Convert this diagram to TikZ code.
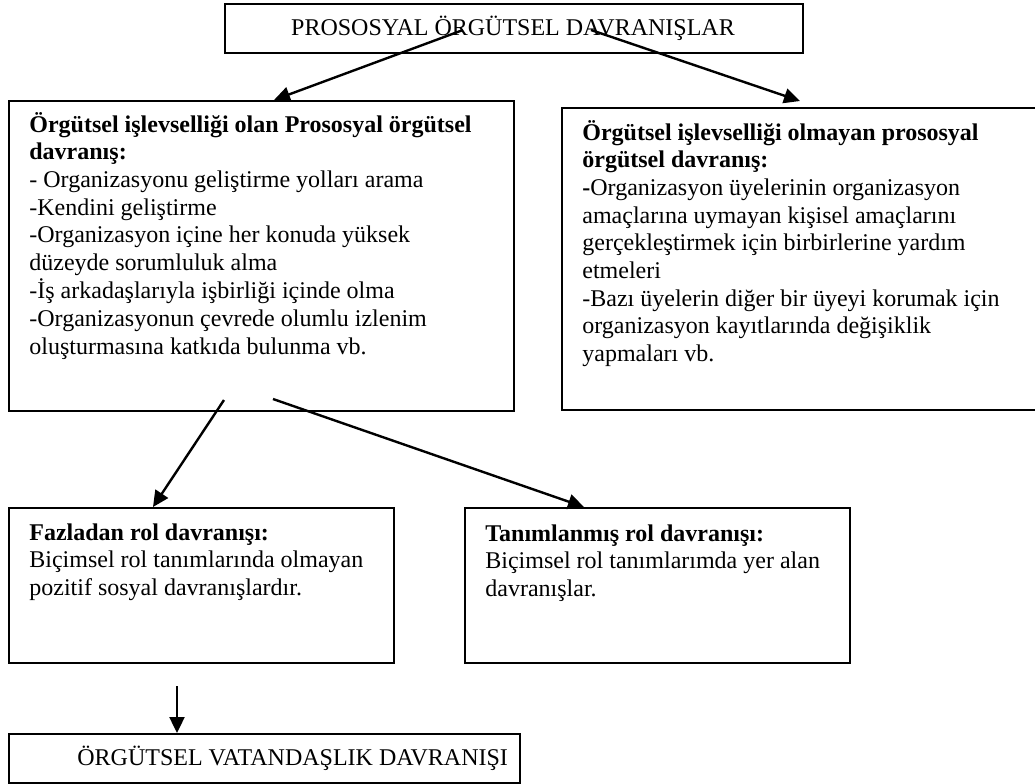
\documentclass[tikz,border=0pt]{standalone}
\usepackage{fontspec}
\setmainfont{Liberation Serif}
\usepackage{tikz}
\usetikzlibrary{calc}
\usetikzlibrary{arrows.meta}
\newcommand{\boxlines}[1]{\begin{tabular}[t]{@{}l@{}}#1\end{tabular}}

\begin{document}
\begin{tikzpicture}[x=0.5pt, y=-0.5pt,
    font=\fontsize{12}{13.85}\selectfont,
    box/.style={draw, rectangle, line width=0.9pt, inner sep=0pt, anchor=north west},
    txt/.style={inner sep=0pt, anchor=base west},
    arr/.style={-{Triangle[length=8pt, width=7.5pt]}, line width=1.2pt}]
  \useasboundingbox (0,0) rectangle (1035,783);
  % boxes
  \node (ptop) [box, minimum width=289pt, minimum height=24.5pt] at (224,3) {};
  \node (lbox) [box, minimum width=252.5pt, minimum height=155pt] at (8,100) {};
  \node (rbox) [box, minimum width=250pt, minimum height=151pt] at (561,107) {};
  \node (fbox) [box, minimum width=192.5pt, minimum height=77.5pt] at (8,507) {};
  \node (tbox) [box, minimum width=192.5pt, minimum height=77.5pt] at (464,507) {};
  \node (vbox) [box, minimum width=255.5pt, minimum height=24.5pt] at (8,733) {};
  % texts
  \node (ptoptext) [inner sep=0pt, anchor=base] at (513,35) {PROSOSYAL ÖRGÜTSEL DAVRANIŞLAR};
  \node (ltext) [txt] at (29,132) {\boxlines{\textbf{Örgütsel işlevselliği olan Prososyal örgütsel}\\
    \textbf{davranış:}\\
    - Organizasyonu geliştirme yolları arama\\
    -Kendini geliştirme\\
    -Organizasyon içine her konuda yüksek\\
    düzeyde sorumluluk alma\\
    -İş arkadaşlarıyla işbirliği içinde olma\\
    -Organizasyonun çevrede olumlu izlenim\\
    oluşturmasına katkıda bulunma vb.}};
  \node (rtext) [txt] at (582,140) {\boxlines{\textbf{Örgütsel işlevselliği olmayan prososyal}\\
    \textbf{örgütsel davranış:}\\
    \textbf{-}Organizasyon üyelerinin organizasyon\\
    amaçlarına uymayan kişisel amaçlarını\\
    gerçekleştirmek için birbirlerine yardım\\
    etmeleri\\
    -Bazı üyelerin diğer bir üyeyi korumak için\\
    organizasyon kayıtlarında değişiklik\\
    yapmaları vb.}};
  \node (ftext) [txt] at (29,540) {\boxlines{\textbf{Fazladan rol davranışı:}\\
    Biçimsel rol tanımlarında olmayan\\
    pozitif sosyal davranışlardır.}};
  \node (ttext) [txt] at (485,541) {\boxlines{\textbf{Tanımlanmış rol davranışı:}\\
    Biçimsel rol tanımlarımda yer alan\\
    davranışlar.}};
  \node (vtext) [txt] at (77,765) {ÖRGÜTSEL VATANDAŞLIK DAVRANIŞI};
  % arrows
  \coordinate (s1) at (463,30);
  \coordinate (s2) at (591,30);
  \coordinate (s3) at (224,400);
  \coordinate (s4) at (273,399);
  \coordinate (s5) at (177,686);
  \draw[arr] (s1) -- ($(lbox.north west)+(266,0)$);
  \draw[arr] (s2) -- ($(rbox.north west)+(239,-6)$);
  \draw[arr] (s3) -- ($(fbox.north west)+(145,0)$);
  \draw[arr] (s4) -- ($(tbox.north west)+(120,0)$);
  \draw[arr] (s5) -- ($(vbox.north west)+(169,0)$);
\end{tikzpicture}
\end{document}
